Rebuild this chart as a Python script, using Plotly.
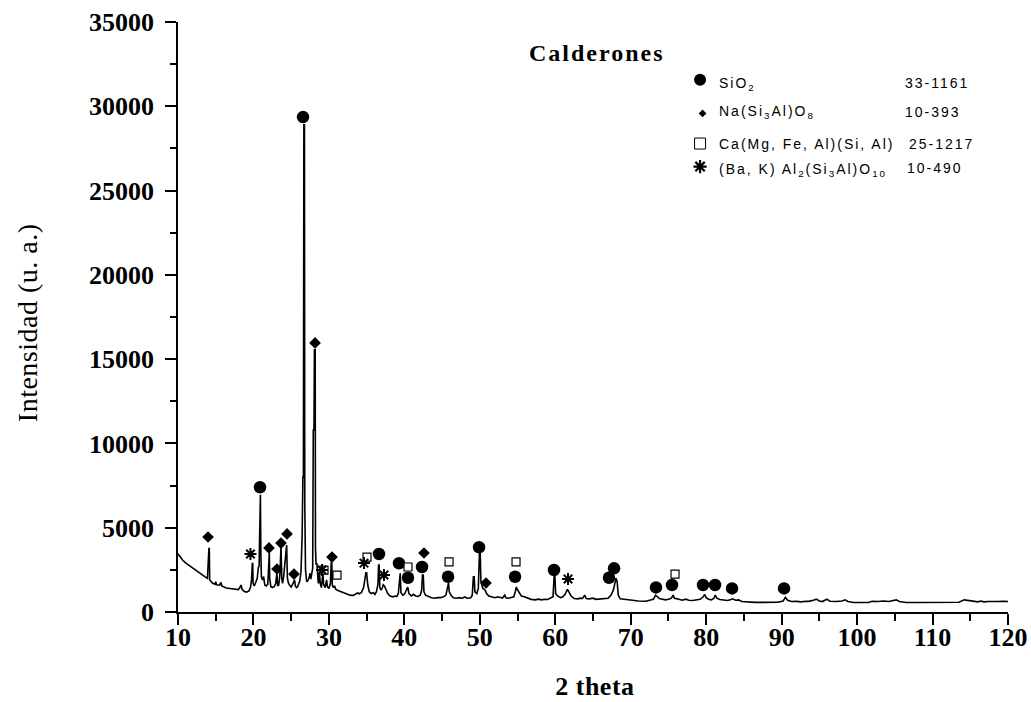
import plotly.graph_objects as go

# ---------------- data ----------------
two_theta = [10.0, 10.2, 10.6, 11.0, 11.5, 12.0, 12.4, 12.8, 13.2, 13.6, 13.9, 14.0, 14.1, 14.15, 14.2,
             14.4, 14.6, 14.9, 15.0, 15.1, 15.5, 15.7, 15.8, 16.4, 17.0, 17.5, 18.0, 18.2, 18.35, 18.5,
             18.8, 19.1, 19.4, 19.6, 19.75, 19.85, 19.9, 19.95, 20.1, 20.3, 20.5, 20.65, 20.75, 20.82,
             20.88, 20.92, 20.98, 21.05, 21.2, 21.35, 21.5, 21.7, 21.9, 22.0, 22.05, 22.1, 22.15, 22.3,
             22.5, 22.75, 22.95, 23.05, 23.1, 23.2, 23.35, 23.5, 23.6, 23.65, 23.75, 23.85, 24.0, 24.2,
             24.35, 24.4, 24.5, 24.65, 24.85, 25.0, 25.2, 25.35, 25.45, 25.55, 25.7, 25.85, 26.0, 26.15,
             26.3, 26.45, 26.55, 26.62, 26.68, 26.76, 26.8, 26.9, 27.05, 27.2, 27.35, 27.5, 27.6, 27.75,
             27.85, 27.93, 28.02, 28.08, 28.18, 28.22, 28.3, 28.4, 28.5, 28.6, 28.75, 28.85, 29.0, 29.2,
             29.3, 29.5, 29.7, 29.8, 30.0, 30.2, 30.3, 30.38, 30.45, 30.6, 30.75, 30.9, 31.2, 31.6, 32.0,
             32.4, 32.8, 33.2, 33.6, 33.8, 34.0, 34.3, 34.6, 34.8, 34.9, 35.0, 35.15, 35.35, 35.6, 35.9,
             36.1, 36.3, 36.5, 36.58, 36.65, 36.75, 36.9, 37.05, 37.2, 37.35, 37.55, 37.8, 38.1, 38.5,
             38.8, 39.0, 39.2, 39.35, 39.45, 39.55, 39.8, 40.0, 40.2, 40.35, 40.45, 40.6, 40.9, 41.2,
             41.5, 41.8, 42.1, 42.3, 42.4, 42.5, 42.6, 42.8, 43.0, 43.3, 43.6, 44.0, 44.4, 44.8, 45.2,
             45.5, 45.7, 45.8, 45.85, 45.95, 46.2, 46.5, 46.9, 47.3, 47.7, 48.0, 48.3, 48.8, 49.0, 49.15,
             49.25, 49.35, 49.6, 49.8, 49.95, 50.05, 50.15, 50.4, 50.6, 50.75, 50.9, 51.2, 51.5, 52.0,
             52.4, 52.7, 53.0, 53.3, 53.45, 53.8, 54.2, 54.5, 54.7, 54.85, 54.95, 55.2, 55.5, 55.9, 56.3,
             56.8, 57.3, 57.8, 58.2, 58.6, 59.0, 59.4, 59.7, 59.85, 59.95, 60.05, 60.3, 60.7, 61.0, 61.3,
             61.6, 61.8, 62.1, 62.5, 63.0, 63.3, 63.6, 63.9, 64.1, 64.5, 65.0, 65.4, 65.8, 66.2, 66.5,
             67.0, 67.4, 67.7, 67.9, 68.05, 68.2, 68.35, 68.6, 69.0, 69.5, 70.0, 70.5, 71.0, 71.5, 72.0,
             72.5, 73.0, 73.3, 73.5, 73.8, 74.2, 74.6, 75.0, 75.4, 75.6, 75.8, 76.2, 76.8, 77.3, 77.7,
             78.2, 78.7, 79.2, 79.6, 79.8, 80.0, 80.3, 80.7, 81.0, 81.2, 81.4, 81.8, 82.3, 82.8, 83.2,
             83.5, 83.9, 84.3, 84.7, 85.5, 86.5, 87.5, 88.5, 89.5, 90.2, 90.5, 90.8, 91.3, 92.0, 92.6,
             93.2, 93.6, 94.2, 94.6, 95.0, 95.4, 96.0, 96.4, 97.2, 98.0, 98.4, 98.8, 99.5, 100.5, 101.5,
             102.0, 102.8, 103.5, 104.2, 104.8, 105.2, 105.6, 106.5, 108.0, 110.0, 112.0, 113.5, 114.2,
             114.8, 115.5, 116.0, 116.4, 116.8, 117.4, 118.0, 118.6, 119.4, 120.0]
intensity = [3450, 3300, 3080, 2920, 2750, 2600, 2490, 2330, 2200, 2080, 2000, 2600, 3800, 3750, 1900,
             1800, 1700, 1650, 1800, 1620, 1600, 1750, 1550, 1420, 1380, 1350, 1330, 1450, 1600, 1350,
             1220, 1180, 1250, 1450, 1900, 2880, 2880, 1700, 1550, 1750, 2000, 2650, 2700, 4500,
             6950, 6950, 3500, 2100, 1900, 2100, 1600, 1550, 1650, 2400, 3500, 3500, 2000, 1500,
             1450, 1500, 1700, 2300, 2300, 1550, 1600, 2200, 3870, 3870, 2000, 1700, 2100, 3300,
             3970, 3970, 2000, 1700, 1550, 1480, 1650, 1900, 1900, 1550, 1450, 1500, 1650, 1850,
             2400, 4500, 8000, 8000, 28900, 28900, 6500, 2500, 1800, 1850, 2000, 2300, 1950, 2500,
             2600, 10800, 10800, 15550, 15550, 3800, 2800, 2900, 1900, 1700, 2300, 1700, 1450, 2300,
             1650, 1450, 1900, 1500, 1400, 1700, 2900, 2900, 1600, 1450, 1550, 1350, 1280, 1200, 1120,
             1050, 1000, 980, 1050, 1130, 1080, 1150, 1450, 2000, 2320, 2320, 1600, 1200, 1100, 1150,
             1050, 1200, 1650, 2780, 2780, 1450, 1300, 1400, 1620, 1550, 1300, 1100, 950, 900,
             950, 920, 1100, 2300, 2300, 1150, 1000, 1050, 1250, 1480, 1480, 1100, 950, 1050,
             950, 920, 1000, 1300, 2190, 2190, 1200, 1000, 950, 900, 850, 820, 850, 850, 900,
             1000, 1400, 1720, 1720, 1200, 980, 850, 820, 850, 820, 900, 820, 850, 1000, 2090,
             2090, 1200, 1100, 1400, 3500, 3500, 1800, 1400, 1350, 1250, 1100, 950, 900, 850,
             900, 850, 830, 1000, 850, 820, 850, 900, 1200, 1480, 1350, 1150, 950, 900, 820,
             750, 720, 760, 720, 760, 740, 820, 900, 2130, 2130, 1100, 950, 850, 900, 1050,
             1350, 1200, 950, 800, 780, 820, 800, 1000, 800, 780, 820, 750, 760, 800, 780,
             820, 1000, 1300, 1700, 2000, 1800, 1000, 780, 750, 720, 700, 680, 650, 660, 640,
             700, 760, 1000, 900, 800, 760, 720, 760, 820, 1000, 820, 780, 700, 760, 700,
             680, 720, 750, 900, 1050, 850, 760, 720, 800, 1000, 820, 740, 700, 680, 720,
             780, 700, 720, 620, 580, 570, 570, 570, 580, 650, 870, 700, 620, 630, 600,
             640, 630, 700, 760, 650, 620, 760, 640, 620, 650, 720, 620, 560, 560, 560,
             640, 620, 650, 620, 680, 720, 620, 560, 560, 560, 560, 580, 720,
             680, 630, 600, 650, 600, 620, 640, 620, 640, 620]

# peak identification marks
sio2_x = [20.87, 26.57, 36.64, 39.29, 40.48, 42.34, 45.79, 49.9, 54.67, 59.83, 67.12, 67.79,
          73.35, 75.47, 79.58, 81.17, 83.43, 90.32]
sio2_y = [7400, 29360, 3440, 2890, 2030, 2670, 2090, 3840, 2090, 2490, 2030, 2590,
          1460, 1600, 1600, 1600, 1400, 1400]
albite_x = [13.98, 22.06, 23.12, 23.65, 24.45, 25.37, 28.16, 30.41, 42.6, 50.82]
albite_y = [4450, 3800, 2550, 4090, 4630, 2250, 15960, 3260, 3500, 1720]
augite_x = [29.35, 31.07, 35.05, 40.48, 45.92, 54.8, 75.87]
augite_y = [2490, 2190, 3260, 2670, 2970, 2970, 2250]
mica_x = [19.6, 29.09, 34.65, 37.3, 61.69]
mica_y = [3440, 2490, 2900, 2190, 1960]

phase_labels = ["SiO<sub>2</sub>", "Na(Si<sub>3</sub>Al)O<sub>8</sub>",
                "Ca(Mg, Fe, Al)(Si, Al)", "(Ba, K) Al<sub>2</sub>(Si<sub>3</sub>Al)O<sub>10</sub>"]
pdf_cards = ["33-1161", "10-393", "25-1217", "10-490"]
x_ticks = [10, 20, 30, 40, 50, 60, 70, 80, 90, 100, 110, 120]
y_ticks = [0, 5000, 10000, 15000, 20000, 25000, 30000, 35000]

# ---------------- figure ----------------
fig = go.Figure()
fig.add_trace(go.Scatter(x=two_theta, y=intensity, mode="lines",
                         line=dict(color="black", width=1.6), showlegend=False))

marker_styles = [
    (sio2_x, sio2_y, dict(symbol="circle", size=12.5, color="black")),
    (albite_x, albite_y, dict(symbol="diamond", size=9, color="black")),
    (augite_x, augite_y, dict(symbol="square", size=8, color="white",
                              line=dict(color="black", width=1.2))),
    (mica_x, mica_y, dict(symbol="asterisk-open", size=10, color="black",
                          line=dict(color="black", width=2))),
]
for xs, ys, mk in marker_styles:
    fig.add_trace(go.Scatter(x=xs, y=ys, mode="markers", marker=mk,
                             showlegend=False, cliponaxis=False))

# custom key (symbols on a hidden 0..1 overlay axis)
key_x = [0.629, 0.632, 0.629, 0.629]
key_y = [0.902, 0.845, 0.794, 0.755]
key_markers = [
    dict(symbol="circle", size=12, color="black"),
    dict(symbol="diamond", size=6, color="black"),
    dict(symbol="square-open", size=11, color="black", line=dict(color="black", width=1)),
    dict(symbol="asterisk-open", size=11, color="black", line=dict(color="black", width=2.2)),
]
for kx, ky, mk in zip(key_x, key_y, key_markers):
    fig.add_trace(go.Scatter(x=[kx], y=[ky], mode="markers", marker=mk, xaxis="x2",
                             yaxis="y2", showlegend=False, cliponaxis=False))

serif = "Liberation Serif"
sans = "Liberation Sans"
annotations = [
    dict(text="Intensidad (u. a.)", x=-0.181, y=0.49, xref="paper", yref="paper",
         xanchor="center", yanchor="middle",
         textangle=-90, showarrow=False, font=dict(family=serif, size=28, color="black")),
    dict(text="<b>2 theta</b>", x=0.502, y=-0.127, xref="paper", yref="paper",
         xanchor="center", yanchor="middle",
         showarrow=False, font=dict(family=serif, size=26, color="black")),
    dict(text="<b>Calderones</b>", x=0.420, y=0.948, xref="paper", yref="paper",
         xanchor="left", yanchor="middle", align="left", showarrow=False,
         font=dict(family=serif, size=24, color="black")),
]
label_y = [0.895, 0.847, 0.793, 0.750]
card_y = [0.897, 0.847, 0.793, 0.752]
card_x = [0.873, 0.873, 0.878, 0.876]
for lab, ly in zip(phase_labels, label_y):
    annotations.append(dict(text=lab, x=0.649, y=ly, xref="paper", yref="paper",
                            xanchor="left", align="left", yanchor="middle", showarrow=False,
                            font=dict(family=sans, size=14, color="black")))
for card, cx, ry in zip(pdf_cards, card_x, card_y):
    annotations.append(dict(text=card, x=cx, y=ry, xref="paper", yref="paper",
                            xanchor="left", align="left", yanchor="middle", showarrow=False,
                            font=dict(family=sans, size=14, color="black")))

tickfont = dict(family=serif, size=26, color="black", weight="bold")
fig.update_layout(
    width=1031, height=702,
    margin=dict(l=178, r=23, t=22, b=90),
    paper_bgcolor="white", plot_bgcolor="white",
    xaxis=dict(range=[10, 120], tickvals=x_ticks, showgrid=False, zeroline=False,
               automargin=False,
               showline=True, linecolor="black", linewidth=1.5, ticks="outside",
               ticklen=11, tickwidth=1.5, tickcolor="black", tickfont=tickfont,
               ticklabelstandoff=-10,
               minor=dict(dtick=5, ticks="outside", ticklen=7, tickwidth=1.5, tickcolor="black")),
    yaxis=dict(range=[0, 35000], tickvals=y_ticks, tickformat="d", showgrid=False,
               zeroline=False, automargin=False,
               showline=True, linecolor="black", linewidth=1.5, ticks="outside",
               ticklen=11, tickwidth=1.5, tickcolor="black", tickfont=tickfont,
               ticklabelstandoff=6,
               minor=dict(dtick=2500, ticks="outside", ticklen=6, tickwidth=1.5, tickcolor="black")),
    xaxis2=dict(overlaying="x", range=[0, 1], visible=False),
    yaxis2=dict(overlaying="y", range=[0, 1], visible=False),
    annotations=annotations,
)

css = ("document.body.style.margin='0';"
       "var st=document.createElement('style');"
       "st.innerHTML='body{margin:0;} .annotation-text{letter-spacing:2px;}"
       ".annotation[data-index=\"0\"] .annotation-text,.annotation[data-index=\"1\"] .annotation-text"
       "{letter-spacing:0.5px;}';"
       "document.head.appendChild(st);")
fig.write_html("out.html", post_script=css, config={"displayModeBar": False})
